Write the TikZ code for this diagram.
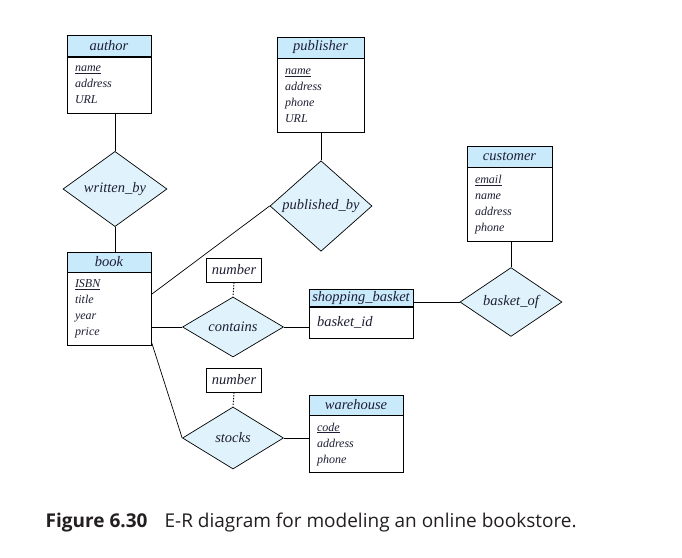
\documentclass[tikz,border=0pt]{standalone}
\usepackage{fontspec}
\setmainfont{Liberation Serif}
\newfontfamily\capfont{Open Sans}
\usetikzlibrary{positioning, shapes.geometric, calc}
\definecolor{entblue}{RGB}{200, 234, 250}
\definecolor{relblue}{RGB}{224, 243, 252}
\definecolor{erink}{RGB}{30, 30, 52}
\definecolor{capink}{RGB}{35, 31, 32}

\begin{document}
\begin{tikzpicture}[x=1pt, y=-1pt, line width=0.7pt,
        enthead/.style={draw, fill=entblue, minimum height=21pt, inner sep=0pt,
            font=\fontsize{14.5}{16}\selectfont\itshape, text=erink},
        entbody/.style={draw, fill=white, align=left, inner xsep=8pt, inner ysep=0pt,
            font=\fontsize{12}{16}\selectfont\itshape, text=erink},
        relship/.style={diamond, draw, fill=relblue, inner sep=0pt,
            font=\fontsize{14.5}{16}\selectfont\itshape, text=erink},
        numbox/.style={draw, fill=white, minimum width=55pt, minimum height=24pt, inner sep=0pt,
            font=\fontsize{14.5}{16}\selectfont\itshape, text=erink},
        dotlink/.style={line width=0.9pt, dash pattern=on 1.4pt off 1.4pt}]
    \useasboundingbox[fill=white] (0,0) rectangle (682,557);

    % entity sets
    \node[enthead, minimum width=84pt] (author) at (109,46) {author};
    \node[entbody, below=0pt of author, text width=68pt, minimum height=56pt] (authorb)
        {\underline{name}\\address\\URL};
    \node[enthead, minimum width=87pt] (publisher) at (320.5,47.5) {publisher};
    \node[entbody, below=0pt of publisher, text width=71pt, minimum height=74pt] (publisherb)
        {\underline{name}\\address\\phone\\URL};
    \node[enthead, minimum width=85pt] (customer) at (509.5,156.5) {customer};
    \node[entbody, below=0pt of customer, text width=69pt, minimum height=74pt] (customerb)
        {\underline{email}\\name\\address\\phone};
    \node[enthead, minimum width=84pt, minimum height=20pt] (book) at (109,262) {book};
    \node[entbody, below=0pt of book, text width=68pt, minimum height=73pt] (bookb)
        {\underline{ISBN}\\title\\year\\price};
    \node[enthead, minimum width=104pt, minimum height=17pt] (sbasket) at (361,298) {shopping\_basket};
    \node[entbody, below=0pt of sbasket, text width=88pt, minimum height=31pt,
        font=\fontsize{14.5}{16}\selectfont\itshape] (sbasketb) {basket\_id};
    \node[enthead, minimum width=94pt, minimum height=20pt] (warehouse) at (356,405) {warehouse};
    \node[entbody, below=0pt of warehouse, text width=78pt, minimum height=57pt] (warehouseb)
        {\underline{code}\\address\\phone};

    % relationship sets
    \node[relship, minimum width=104pt, minimum height=58pt] (writtenby) at (115,189) {written\_by};
    \node[relship, minimum width=102pt, minimum height=62pt] (publishedby) at (321,206) {published\_by};
    \node[relship, minimum width=101pt, minimum height=60pt] (contains) at (233,327) {contains};
    \node[relship, minimum width=101pt, minimum height=62pt] (stocks) at (233,438) {stocks};
    \node[relship, minimum width=102pt, minimum height=62pt] (basketof) at (511,302) {basket\_of};

    \node[numbox] (containsnum) at (234,270) {number};
    \node[numbox] (stocksnum) at (234,380) {number};

    % connectors
    \draw (writtenby.north) -- (writtenby.north |- authorb.south);
    \draw (writtenby.south) -- (writtenby.south |- book.north);
    \draw (publishedby.north) -- (publishedby.north |- publisherb.south);
    \draw ($(bookb.north east)!0.3!(bookb.south east)$) -- (publishedby.west);
    \draw (contains.west -| bookb.east) -- (contains.west);
    \draw ($(bookb.north east)!0.94!(bookb.south east)$) -- (stocks.west);
    \draw[dotlink] (containsnum.south) -- (contains.north);
    \draw (contains.east) -- (contains.east -| sbasketb.west);
    \draw (basketof.west -| sbasket.east) -- (basketof.west);
    \draw (basketof.north) -- (basketof.north |- customerb.south);
    \draw[dotlink] (stocksnum.south) -- (stocks.north);
    \draw (stocks.east) -- (stocks.east -| warehouseb.west);

    \node[anchor=base west, text=capink, font=\capfont\fontsize{19}{22}\selectfont] (caption) at (42,527)
        {\textbf{Figure 6.30}\hspace{0.9em}E-R diagram for modeling an online bookstore.};
\end{tikzpicture}
\end{document}
